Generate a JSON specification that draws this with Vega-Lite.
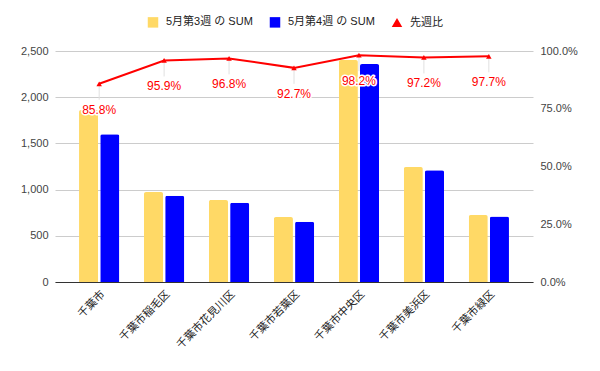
{
  "$schema": "https://vega.github.io/schema/vega-lite/v6.json",
  "autosize": "none",
  "width": 478,
  "height": 231,
  "padding": {"left": 55, "top": 51, "right": 67, "bottom": 89},
  "background": "white",
  "config": {
    "font": "Liberation Sans, Arial, Noto Sans CJK JP, sans-serif",
    "view": {"stroke": null},
    "axis": {"labelFont": "Liberation Sans, Arial, Noto Sans CJK JP, sans-serif", "labelFontSize": 11, "labelColor": "#444444", "titleFontSize": 11},
    "legend": {"labelFont": "Liberation Sans, Arial, Noto Sans CJK JP, sans-serif"}
  },
  "datasets": {
    "sums": [
      {"area": "千葉市", "series": "5月第3週 の SUM", "sum": 1861},
      {"area": "千葉市", "series": "5月第4週 の SUM", "sum": 1598},
      {"area": "千葉市稲毛区", "series": "5月第3週 の SUM", "sum": 974},
      {"area": "千葉市稲毛区", "series": "5月第4週 の SUM", "sum": 934},
      {"area": "千葉市花見川区", "series": "5月第3週 の SUM", "sum": 887},
      {"area": "千葉市花見川区", "series": "5月第4週 の SUM", "sum": 859},
      {"area": "千葉市若葉区", "series": "5月第3週 の SUM", "sum": 703},
      {"area": "千葉市若葉区", "series": "5月第4週 の SUM", "sum": 652},
      {"area": "千葉市中央区", "series": "5月第3週 の SUM", "sum": 2402},
      {"area": "千葉市中央区", "series": "5月第4週 の SUM", "sum": 2359},
      {"area": "千葉市美浜区", "series": "5月第3週 の SUM", "sum": 1244},
      {"area": "千葉市美浜区", "series": "5月第4週 の SUM", "sum": 1209},
      {"area": "千葉市緑区", "series": "5月第3週 の SUM", "sum": 725},
      {"area": "千葉市緑区", "series": "5月第4週 の SUM", "sum": 708}
    ],
    "ratios": [
      {"area": "千葉市", "series": "先週比", "ratio": 0.858},
      {"area": "千葉市稲毛区", "series": "先週比", "ratio": 0.959},
      {"area": "千葉市花見川区", "series": "先週比", "ratio": 0.968},
      {"area": "千葉市若葉区", "series": "先週比", "ratio": 0.927},
      {"area": "千葉市中央区", "series": "先週比", "ratio": 0.982},
      {"area": "千葉市美浜区", "series": "先週比", "ratio": 0.972},
      {"area": "千葉市緑区", "series": "先週比", "ratio": 0.977}
    ]
  },
  "encoding": {
    "x": {
      "field": "area", "type": "nominal", "sort": null, "title": null,
      "scale": {"paddingInner": 0.38, "paddingOuter": 0.37},
      "axis": {"labelAngle": -45, "domainColor": "#333333", "ticks": false, "labelPadding": 6, "labelColor": "#222222", "labelFontSize": 11}
    }
  },
  "layer": [
    {
      "data": {"name": "sums"},
      "mark": {"type": "bar", "cornerRadiusTopLeft": 2, "cornerRadiusTopRight": 2},
      "encoding": {
        "xOffset": {"field": "series", "type": "nominal", "scale": {"paddingInner": 0.1}},
        "y": {
          "field": "sum", "type": "quantitative", "title": null,
          "scale": {"domain": [0, 2500]},
          "axis": {"values": [0, 500, 1000, 1500, 2000, 2500], "format": ",.0f", "domain": false, "ticks": false, "labelPadding": 7, "gridColor": "#cccccc"}
        },
        "color": {
          "field": "series", "type": "nominal",
          "scale": {"domain": ["5月第3週 の SUM", "5月第4週 の SUM", "先週比"], "range": ["#ffd966", "#0000ff", "#ff0000"]},
          "legend": {"title": null, "orient": "none", "legendX": 92, "legendY": -35, "direction": "horizontal", "labelFontSize": 11, "labelColor": "#222222", "symbolSize": 110, "columnPadding": 16, "labelOffset": 7}
        }
      }
    },
    {
      "data": {"name": "ratios"},
      "encoding": {
        "y": {
          "field": "ratio", "type": "quantitative", "title": null,
          "scale": {"domain": [0, 1]},
          "axis": {"orient": "right", "values": [0, 0.25, 0.5, 0.75, 1], "format": ".1%", "grid": false, "domain": false, "ticks": false, "labelPadding": 7}
        }
      },
      "layer": [
        {
          "mark": {"type": "rule", "color": "#e0e0e0", "strokeWidth": 1, "y2Offset": 16},
          "encoding": {"y2": {"field": "ratio"}}
        },
        {
          "mark": {"type": "line", "color": "#ff0000", "strokeWidth": 2},
          "encoding": {}
        },
        {
          "mark": {"type": "point", "filled": true, "opacity": 1, "size": 30},
          "encoding": {
            "color": {
              "field": "series", "type": "nominal",
              "scale": {"domain": ["5月第3週 の SUM", "5月第4週 の SUM", "先週比"], "range": ["#ffd966", "#0000ff", "#ff0000"]},
              "legend": {"title": null, "orient": "none", "legendX": 92, "legendY": -35, "direction": "horizontal", "labelFontSize": 11, "labelColor": "#222222", "symbolSize": 110, "columnPadding": 16, "labelOffset": 7}
            },
            "shape": {
              "field": "series", "type": "nominal",
              "scale": {"domain": ["5月第3週 の SUM", "5月第4週 の SUM", "先週比"], "range": ["square", "square", "triangle-up"]},
              "legend": {"title": null, "orient": "none", "legendX": 92, "legendY": -35, "direction": "horizontal", "labelFontSize": 11, "labelColor": "#222222", "symbolSize": 110, "columnPadding": 16, "labelOffset": 7}
            }
          }
        },
        {
          "mark": {"type": "text", "dy": 26, "baseline": "middle", "fontSize": 12, "stroke": "white", "strokeWidth": 3, "strokeJoin": "round", "fill": "white"},
          "encoding": {"text": {"field": "ratio", "type": "quantitative", "format": ".1%"}}
        },
        {
          "mark": {"type": "text", "dy": 26, "baseline": "middle", "fontSize": 12, "color": "#ff0000"},
          "encoding": {"text": {"field": "ratio", "type": "quantitative", "format": ".1%"}}
        }
      ]
    }
  ],
  "resolve": {"scale": {"y": "independent"}}
}
